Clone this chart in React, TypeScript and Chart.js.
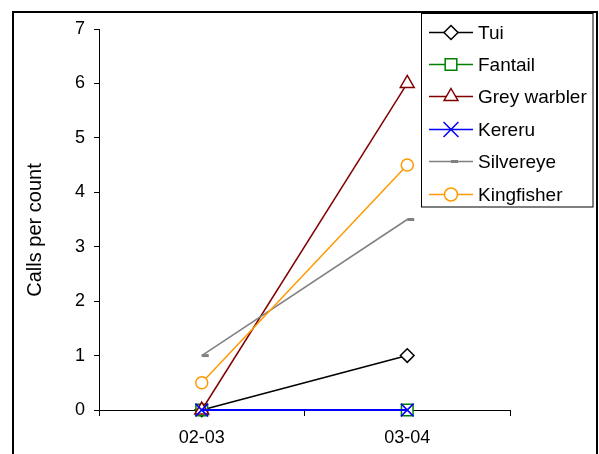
import React, { useEffect, useRef } from 'react';
import { Chart, registerables } from 'chart.js';

Chart.register(...registerables);

const categories = ['02-03', '03-04'];
const seriesNames = ['Tui', 'Fantail', 'Grey warbler', 'Kereru', 'Silvereye', 'Kingfisher'];
const tui = [0, 1];
const fantail = [0, 0];
const greyWarbler = [0, 6];
const kereru = [0, 0];
const silvereye = [1, 3.5];
const kingfisher = [0.5, 4.5];
const seriesValues = [tui, fantail, greyWarbler, kereru, silvereye, kingfisher];
const seriesColors = ['#000000', '#008000', '#800000', '#0000FF', '#808080', '#FF9900'];
const seriesMarkers = ['rectRot', 'rect', 'triangle', 'crossRot', 'dash', 'circle'];
const markerRadius = [6.8, 8.2, 8, 9, 7, 6];
const yMin = 0;
const yMax = 7;
const yStep = 1;
const yTitle = 'Calls per count';

const FONT = '"Liberation Sans", Arial, sans-serif';

function drawMarker(ctx: CanvasRenderingContext2D, style: string, x: number, y: number, r: number, color: string) {
  ctx.save();
  ctx.strokeStyle = color;
  ctx.fillStyle = '#ffffff';
  ctx.lineWidth = style === 'dash' ? 3 : 1.5;
  ctx.beginPath();
  if (style === 'rectRot') {
    ctx.moveTo(x, y - r); ctx.lineTo(x + r, y); ctx.lineTo(x, y + r); ctx.lineTo(x - r, y); ctx.closePath();
    ctx.fill(); ctx.stroke();
  } else if (style === 'rect') {
    const s = r * Math.SQRT1_2;
    ctx.rect(x - s, y - s, 2 * s, 2 * s); ctx.fill(); ctx.stroke();
  } else if (style === 'triangle') {
    const h = r;
    ctx.moveTo(x, y - h); ctx.lineTo(x + h * 0.866, y + h * 0.5); ctx.lineTo(x - h * 0.866, y + h * 0.5); ctx.closePath();
    ctx.fill(); ctx.stroke();
  } else if (style === 'crossRot') {
    const s = r * Math.SQRT1_2;
    ctx.moveTo(x - s, y - s); ctx.lineTo(x + s, y + s); ctx.moveTo(x + s, y - s); ctx.lineTo(x - s, y + s); ctx.stroke();
  } else if (style === 'dash') {
    ctx.moveTo(x, y); ctx.lineTo(x + r, y); ctx.stroke();
  } else if (style === 'circle') {
    ctx.arc(x, y, r, 0, Math.PI * 2); ctx.fill(); ctx.stroke();
  }
  ctx.restore();
}

const framePlugin = {
  id: 'frame',
  afterDraw(chart: any) {
    const ctx = chart.ctx as CanvasRenderingContext2D;
    ctx.save();
    // outer frame
    ctx.strokeStyle = '#000000';
    ctx.lineWidth = 2;
    ctx.strokeRect(13, 12, 584, 470);
    // y axis title
    ctx.save();
    ctx.translate(41, 230);
    ctx.rotate(-Math.PI / 2);
    ctx.font = '20px ' + FONT;
    ctx.fillStyle = '#000000';
    ctx.textAlign = 'center';
    ctx.textBaseline = 'alphabetic';
    ctx.fillText(yTitle, 0, 0);
    ctx.restore();
    // legend box
    const lx = 421.5, ly = 13.5, lw = 171.5, lh = 193.5;
    ctx.fillStyle = '#ffffff';
    ctx.fillRect(lx, ly, lw, lh);
    ctx.lineWidth = 1;
    ctx.strokeStyle = '#000000';
    ctx.strokeRect(lx, ly, lw, lh);
    ctx.font = '19px ' + FONT;
    ctx.textBaseline = 'middle';
    ctx.textAlign = 'left';
    chart.data.datasets.forEach((ds: any, i: number) => {
      const yy = Math.round(31.5 + i * 32.4) + 0.5;
      ctx.strokeStyle = ds.borderColor;
      ctx.lineWidth = 1.5;
      ctx.beginPath();
      ctx.moveTo(429, yy);
      ctx.lineTo(473, yy);
      ctx.stroke();
      const r = ds.pointStyle === 'crossRot' ? 10.5 : ds.pointStyle === 'circle' ? 6.5 : ds.pointStyle === 'rectRot' ? 7 : ds.pointRadius;
      drawMarker(ctx, ds.pointStyle, 451, yy, r, ds.borderColor);
      ctx.fillStyle = '#000000';
      ctx.fillText(ds.label, 478, yy + 1);
    });
    ctx.restore();
  },
};

export default function App() {
  const canvasRef = useRef<HTMLCanvasElement | null>(null);

  useEffect(() => {
    document.body.style.margin = '0';
    const canvas = canvasRef.current;
    if (!canvas) return;
    const datasets = seriesNames.map((name, i) => ({
      label: name,
      data: seriesValues[i],
      borderColor: seriesColors[i],
      backgroundColor: '#ffffff',
      pointBackgroundColor: '#ffffff',
      pointBorderColor: seriesColors[i],
      pointStyle: seriesMarkers[i],
      pointRadius: markerRadius[i],
      pointBorderWidth: seriesMarkers[i] === 'dash' ? 3 : 1.5,
      borderWidth: seriesColors[i] === '#0000FF' ? 2 : 1.5,
      tension: 0,
      fill: false,
      clip: false as any,
      order: seriesNames.length - 1 - i,
    }));
    const chart = new Chart(canvas, {
      type: 'line',
      data: { labels: categories, datasets },
      options: {
        animation: false,
        responsive: false,
        maintainAspectRatio: false,
        devicePixelRatio: 1,
        layout: { padding: { top: 29, right: 89, left: 0, bottom: 0 } },
        plugins: { legend: { display: false }, tooltip: { enabled: false } },
        scales: {
          x: {
            type: 'category',
            offset: true,
            grid: { offset: true, drawOnChartArea: false, tickLength: 6, color: '#000000', lineWidth: 1 },
            border: { color: '#000000', width: 1 },
            ticks: { color: '#000000', font: { family: FONT, size: 18 }, padding: 11, maxRotation: 0 },
            afterFit: (s: any) => { s.height = 44; },
          },
          y: {
            min: yMin,
            max: yMax,
            ticks: { stepSize: yStep, color: '#000000', font: { family: FONT, size: 18 }, padding: 9 },
            grid: { drawOnChartArea: false, tickLength: 5, color: '#000000', lineWidth: 1 },
            border: { color: '#000000', width: 1 },
            title: { display: false },
            afterFit: (s: any) => { s.width = 99; },
          },
        },
      },
      plugins: [framePlugin],
    });
    return () => chart.destroy();
  }, []);

  return (
    <div style={{ position: 'fixed', left: 0, top: 0, width: 599, height: 454, background: '#ffffff' }}>
      <canvas ref={canvasRef} width={599} height={454} style={{ width: 599, height: 454, display: 'block' }} />
    </div>
  );
}
